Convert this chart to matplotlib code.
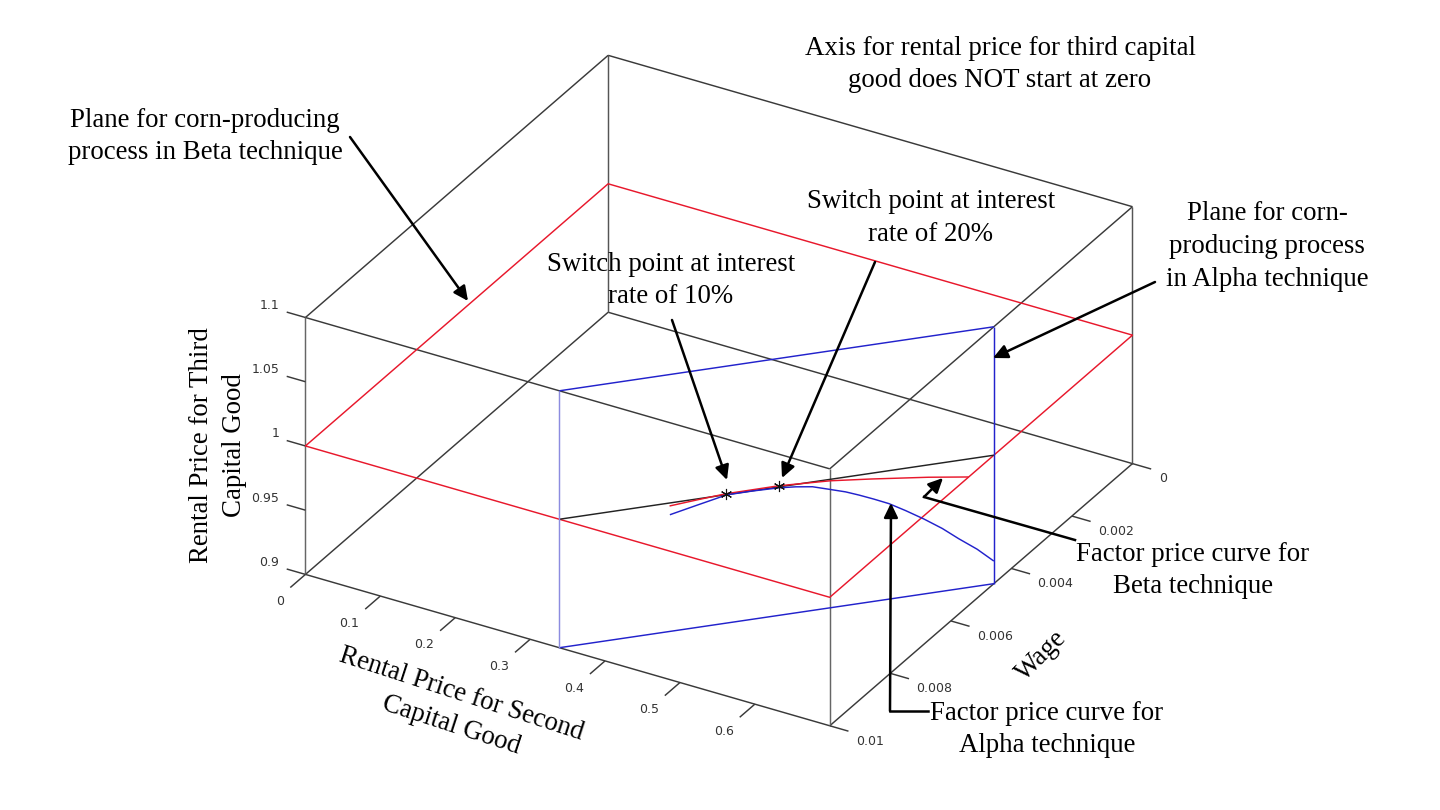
import matplotlib
matplotlib.use('Agg')
import matplotlib.pyplot as plt
from mpl_toolkits.mplot3d import proj3d

# axis ranges and ticks
r2_lim = [0, 0.7]
wage_lim = [0.01, 0]
r3_lim = [0.9, 1.1]
r2_ticks = [0, 0.1, 0.2, 0.3, 0.4, 0.5, 0.6]
r2_tick_labels = ['0', '0.1', '0.2', '0.3', '0.4', '0.5', '0.6']
wage_ticks = [0, 0.002, 0.004, 0.006, 0.008, 0.01]
wage_tick_labels = ['0', '0.002', '0.004', '0.006', '0.008', '0.01']
r3_ticks = [0.9, 0.95, 1, 1.05, 1.1]
r3_tick_labels = ['0.9', '0.95', '1', '1.05', '1.1']

# Beta plane sits at a constant third rental price
beta_r3 = 1.0

# Alpha plane is vertical, between these two ground points
alpha_r2 = [0.339, 0.7]
alpha_wage = [0.01, 0.00458]

# factor price curves
beta_curve_r2 = [0.434, 0.456, 0.476, 0.520, 0.566, 0.605, 0.660, 0.700]
beta_curve_wage = [0.00871, 0.00828, 0.00790, 0.00723, 0.00666, 0.00627, 0.00575, 0.00541]
alpha_curve_r2 = [0.4308, 0.4524, 0.4779, 0.4994, 0.5216, 0.5354, 0.5492, 0.5631, 0.5769,
                  0.5880, 0.6004, 0.6129, 0.6267, 0.6419, 0.6571, 0.6709, 0.6862, 0.7000]
alpha_curve_wage = [0.00862, 0.00830, 0.00791, 0.00759, 0.00726, 0.00705, 0.00684, 0.00664, 0.00643,
                    0.00626, 0.00608, 0.00589, 0.00568, 0.00545, 0.00522, 0.00502, 0.00479, 0.00458]
alpha_curve_r3 = [0.9908, 0.9950, 0.9997, 0.9998, 0.9993, 0.9981, 0.9962, 0.9925, 0.9885,
                  0.9844, 0.9797, 0.9744, 0.9670, 0.9583, 0.9488, 0.9391, 0.9288, 0.9176]

# switch points
switch_r2 = [0.476, 0.520]
switch_wage = [0.00790, 0.00723]
switch_r3 = [1.0, 1.0]

plt.rcParams['font.family'] = ['Liberation Serif', 'DejaVu Sans']

BOX = '#3a3a3a'
RED = '#e8182c'
BLUE = '#2222cc'
SERIF = 19.4
TICK = 9
SPACING = 1.40

fig = plt.figure(figsize=(14.4, 8.1), dpi=100)
ax = fig.add_axes([-12 / 1440, 3.5 / 810, 1, 1], projection='3d', proj_type='ortho')
ax.computed_zorder = False
ax.view_init(elev=30, azim=-60)
ax.set_box_aspect((1, 1, 0.49), zoom=1.086)
ax.set_xlim(r2_lim)
ax.set_ylim(wage_lim)
ax.set_zlim(r3_lim)
ax.set_xticks([])
ax.set_yticks([])
ax.set_zticks([])
ax.set_axis_off()
ax.patch.set_alpha(0)

x0, x1 = r2_lim
w0, w1 = wage_lim
z0, z1 = r3_lim


def seg(xs, ys, zs, color=BOX, lw=1.05):
    ax.plot(xs, ys, zs, color=color, lw=lw, solid_capstyle='butt', clip_on=False)


def tick_text(x, y, z, label, ha):
    px, py, _ = proj3d.proj_transform(x, y, z, ax.get_proj())
    ax.text2D(px, py, label, transform=ax.transData, family='DejaVu Sans', fontsize=TICK,
              color='#333333', ha=ha, va='center', clip_on=False)


# box outline
seg([x0, x1], [w0, w0], [z0, z0])
seg([x1, x1], [w0, w1], [z0, z0])
seg([x0, x0], [w0, w1], [z0, z0])
seg([x0, x1], [w1, w1], [z0, z0])
seg([x0, x1], [w0, w0], [z1, z1])
seg([x1, x1], [w0, w1], [z1, z1])
seg([x0, x0], [w0, w1], [z1, z1])
seg([x0, x1], [w1, w1], [z1, z1])
seg([x0, x0], [w0, w0], [z0, z1], color='#666666')
seg([x1, x1], [w0, w0], [z0, z1], color='#666666')
seg([x0, x0], [w1, w1], [z0, z1], color='#555555')
seg([x1, x1], [w1, w1], [z0, z1], color='#555555')

# ticks
for t in r3_ticks:
    seg([x0, -0.025], [w0, w0], [t, t])
for t in r2_ticks:
    seg([t, t], [w0, 0.0105], [z0, z0])
for t in wage_ticks:
    seg([x1, 0.725], [t, t], [z0, z0])

# tick labels
for t, lab in zip(r3_ticks, r3_tick_labels):
    tick_text(-0.035, w0, t + 0.0035, lab, 'right')
for t, lab in zip(r2_ticks, r2_tick_labels):
    tick_text(t, 0.0107, z0 - 0.007, lab, 'right')
for t, lab in zip(wage_ticks, wage_tick_labels):
    tick_text(0.735, t, z0 - 0.006, lab, 'left')

# Beta plane
seg([x0, x0, x1, x1, x0], [w0, w1, w1, w0, w0], [beta_r3] * 5, color=RED)

# Alpha plane
seg(alpha_r2, alpha_wage, [z0, z0], color=BLUE)
seg(alpha_r2, alpha_wage, [z1, z1], color=BLUE)
seg(alpha_r2, alpha_wage, [beta_r3, beta_r3], color='#222222')
seg([alpha_r2[0]] * 2, [alpha_wage[0]] * 2, r3_lim, color='#8c8ce0')
seg([alpha_r2[1]] * 2, [alpha_wage[1]] * 2, r3_lim, color=BLUE)

# factor price curves
seg(beta_curve_r2, beta_curve_wage, [beta_r3] * len(beta_curve_r2), color=RED)
seg(alpha_curve_r2, alpha_curve_wage, alpha_curve_r3, color=BLUE)
ax.plot(switch_r2, switch_wage, switch_r3, ls='none', marker=(6, 2, 0), ms=8, mew=0.8, color='#111111')

# annotations go on a pixel overlay
ov = fig.add_axes([0, 0, 1, 1])
ov.set_xlim(0, 1440)
ov.set_ylim(810, 0)
ov.set_xticks([])
ov.set_yticks([])
ov.axis('off')

notes = [
    ('Plane for corn-producing\nprocess in Beta technique', 205, 136.5),
    ('Axis for rental price for third capital\ngood does NOT start at zero', 1000, 64.5),
    ('Switch point at interest\nrate of 20%', 931, 218),
    ('Switch point at interest\nrate of 10%', 671, 280.5),
    ('Plane for corn-\nproducing process\nin Alpha technique', 1267, 246.5),
    ('Factor price curve for\nBeta technique', 1193, 570.5),
    ('Factor price curve for\nAlpha technique', 1047, 729.5),
]
for txt, x, y in notes:
    ov.text(x, y, txt, fontsize=SERIF, ha='center', va='center', color='black', linespacing=SPACING)

ov.text(218, 445, 'Rental Price for Third\nCapital Good', fontsize=SERIF, rotation=90,
        ha='center', va='center', linespacing=SPACING)
ov.text(456, 710, 'Rental Price for Second\nCapital Good', fontsize=SERIF, rotation=-18,
        rotation_mode='anchor', ha='center', va='center', linespacing=SPACING)
ov.text(1041, 656, 'Wage', fontsize=SERIF, rotation=45, rotation_mode='anchor', ha='center', va='center')

arrows = [
    ((350, 137), (468, 301)),
    ((672, 320), (727, 480)),
    ((875, 262), (782, 478)),
    ((1155, 282), (993, 358)),
    ((924, 497), (943, 478)),
    ((890, 711), (891, 503)),
]
for start, end in arrows:
    ov.annotate('', xy=end, xytext=start,
                arrowprops=dict(arrowstyle='-|>,head_length=0.62,head_width=0.3', lw=1.8, color='black',
                                mutation_scale=14, shrinkA=0, shrinkB=0))
ov.plot([1075, 924], [540, 497], color='black', lw=1.8)
ov.plot([928, 890], [711, 711], color='black', lw=1.8)

fig.savefig('out.png', dpi=100)
